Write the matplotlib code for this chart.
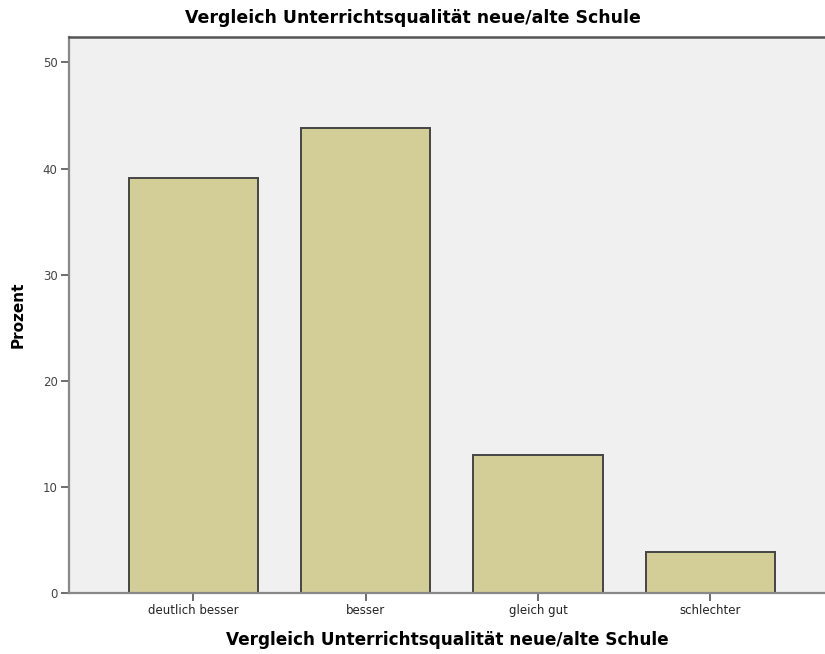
import numpy as np
import matplotlib
matplotlib.use("Agg")
import matplotlib.pyplot as plt

plt.rcParams['font.family'] = ['DejaVu Sans']

# Daten (Prozent)
categories = ['deutlich besser', 'besser', 'gleich gut', 'schlechter']
percent = [39.1, 43.8, 13.0, 3.8]
y_ticks = [0, 10, 20, 30, 40, 50]
title = 'Vergleich Unterrichtsqualität neue/alte Schule'

fig = plt.figure(figsize=(8.25, 6.54), dpi=100)
ax = fig.add_axes([0.0833, 0.0937, 0.9167, 0.8497])
ax.set_facecolor('#f0f0f0')

x = np.arange(len(categories))
ax.bar(x, percent, width=0.75, color='#d3ce97', edgecolor='#454545', linewidth=1.4, zorder=2)

ax.set_xlim(-0.724, 3.665)
ax.set_ylim(0, 52.4)
ax.set_xticks(x)
ax.set_xticklabels(categories, fontsize=8.5, color='#222222')
ax.set_yticks(y_ticks)
ax.set_yticklabels([str(t) for t in y_ticks], fontsize=8.5, color='#444444')
ax.tick_params(axis='both', length=6, width=1.2, color='#555555', pad=2)

for s in ['left', 'bottom']:
    ax.spines[s].set_color('#888888')
    ax.spines[s].set_linewidth(1.6)
ax.spines['top'].set_color('#555555')
ax.spines['top'].set_linewidth(1.8)
ax.spines['right'].set_visible(False)

ax.set_ylabel('Prozent', fontsize=11, fontweight='bold')
ax.yaxis.set_label_coords(26 / 825, 1 - 315 / 654, transform=fig.transFigure)
ax.set_xlabel(title, fontsize=12.2, fontweight='bold', labelpad=10)
fig.text(0.5, 1 - 18 / 654, title, fontsize=12.5, fontweight='bold', ha='center', va='center')

plt.savefig('out.png', dpi=100)
